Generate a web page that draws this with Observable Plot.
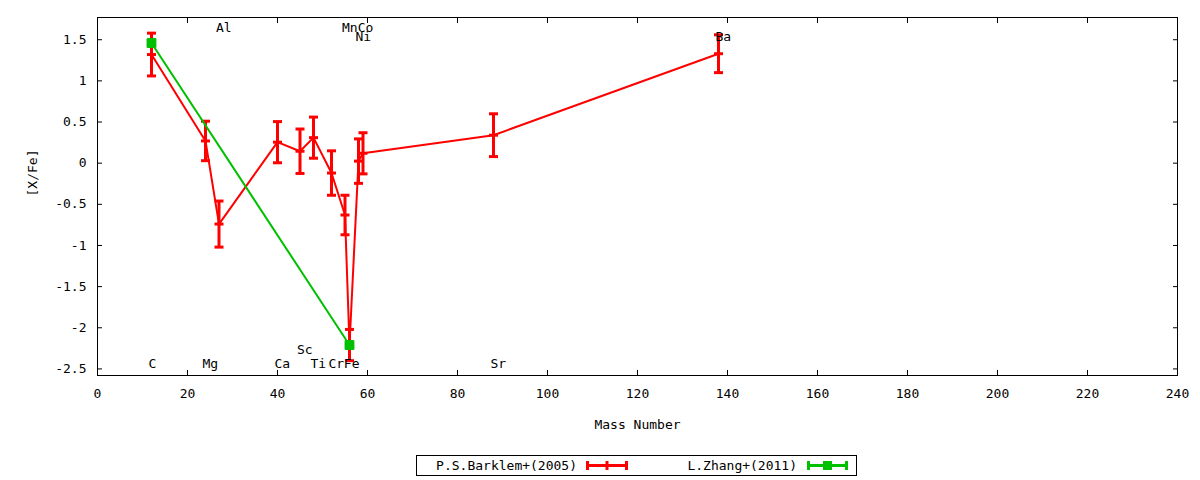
<!DOCTYPE html>
<html><head><meta charset="utf-8">
<script src="https://cdn.jsdelivr.net/npm/d3@7"></script>
<script src="https://cdn.jsdelivr.net/npm/@observablehq/plot@0.6"></script>
<style>
body{margin:0;background:#fff;font-family:"DejaVu Sans Mono",monospace;}
#wrap{position:relative;width:1200px;height:480px;}
#legend{position:absolute;left:416px;top:455px;}
</style></head><body><div id="wrap"><div id="chart"></div><svg id="legend" width="441" height="21"></svg></div>
<script>
// Barklem+(2005) abundances
const elements = ["C","Mg","Al","Ca","Sc","Ti","Cr","Mn","Fe","Ni","Co","Sr","Ba"];
const massNumber = [12,24,27,40,45,48,52,55,56,58,59,88,138];
const barklem = [1.32,0.27,-0.74,0.255,0.145,0.31,-0.12,-0.63,-2.21,0.025,0.12,0.34,1.33];
const barklemErr = [0.26,0.24,0.28,0.25,0.27,0.25,0.27,0.24,0.19,0.27,0.25,0.26,0.23];

// L.Zhang+(2011)
const zhangElements = ["C","Fe"];
const zhangMass = [12,56];
const zhang = [1.46,-2.21];

// element name labels
const labelText = ["C","Mg","Al","Ca","Sc","Ti","Cr","Mn","Fe","Ni","Co","Sr","Ba"];
const labelX = [12,24,27,40,45,48,52,55,55.4,58,58.5,88,138];
const labelY = [-2.44,-2.44,1.65,-2.44,-2.27,-2.44,-2.44,1.65,-2.44,1.53,1.65,-2.44,1.53];

const xTicks = [0,20,40,60,80,100,120,140,160,180,200,220,240];
const yTicks = [-2.5,-2,-1.5,-1,-0.5,0,0.5,1,1.5];
const xTitle = "Mass Number";
const yTitle = "[X/Fe]";

const RED = "#ff0000", GREEN = "#00c000";
const FONT = "DejaVu Sans Mono";

const red = elements.map((el,i)=>({el, mass: massNumber[i], v: barklem[i], e: barklemErr[i]}));
const green = zhangElements.map((el,i)=>({el, mass: zhangMass[i], v: zhang[i]}));
const labels = labelText.map((t,i)=>({t, x: labelX[i], y: labelY[i]}));

const cap = {draw(ctx){ ctx.moveTo(-4.5,0); ctx.lineTo(4.5,0); }};

const chart = Plot.plot({
  width: 1200, height: 440,
  marginLeft: 97, marginRight: 23, marginTop: 17, marginBottom: 65,
  style: {fontFamily: FONT, fontSize: "13px", color: "#000", background: "#fff"},
  x: {domain: [0,240]},
  y: {domain: [-2.58,1.77]},
  marks: [
    Plot.axisX({anchor:"bottom", ticks: xTicks, tickSize: 0, tickPadding: 13, tickFormat: d=>String(d), label: null, fontSize: 13}),
    Plot.axisX({anchor:"bottom", ticks: xTicks, tickSize: -5, tickFormat: ()=>"", label: null}),
    Plot.axisX({anchor:"top", ticks: xTicks, tickSize: -5, tickFormat: ()=>"", label: null}),
    Plot.axisY({anchor:"left", ticks: yTicks, tickSize: 0, tickPadding: 11, tickFormat: d=>String(d), label: null, fontSize: 13}),
    Plot.axisY({anchor:"left", ticks: yTicks, tickSize: -5, tickFormat: ()=>"", label: null}),
    Plot.axisY({anchor:"right", ticks: yTicks, tickSize: -5, tickFormat: ()=>"", label: null}),
    Plot.text([xTitle], {text: d=>d, frameAnchor: "bottom", dy: 53, fontSize: 13, fill: "#000"}),
    Plot.text([yTitle], {text: d=>d, frameAnchor: "left", rotate: -90, dx: -65, fontSize: 13, fill: "#000"}),
    Plot.frame({stroke: "#000", strokeWidth: 1}),
    Plot.line(red, {x: "mass", y: "v", stroke: RED, strokeWidth: 2}),
    Plot.ruleX(red, {x: "mass", y1: d=>d.v-d.e, y2: d=>d.v+d.e, stroke: RED, strokeWidth: 3}),
    Plot.dot(red, {x: "mass", y: d=>d.v-d.e, symbol: cap, fill: "none", stroke: RED, strokeWidth: 3}),
    Plot.dot(red, {x: "mass", y: d=>d.v+d.e, symbol: cap, fill: "none", stroke: RED, strokeWidth: 3}),
    Plot.dot(red, {x: "mass", y: "v", symbol: cap, fill: "none", stroke: RED, strokeWidth: 3}),
    Plot.line(green, {x: "mass", y: "v", stroke: GREEN, strokeWidth: 2}),
    Plot.dot(green, {x: "mass", y: "v", symbol: "square", r: 5, fill: GREEN, stroke: GREEN, strokeWidth: 1}),
    Plot.text(labels, {x: "x", y: "y", text: "t", textAnchor: "start", dx: -3, fill: "#000", fontSize: 13})
  ]
});
document.getElementById("chart").appendChild(chart);

// legend
const lg = d3.select("#legend");
lg.append("rect").attr("x",0.5).attr("y",0.5).attr("width",440).attr("height",20).attr("fill","none").attr("stroke","#000");
const entries = [
  {name: "P.S.Barklem+(2005)", color: RED, textEnd: 161, x0: 170, x1: 212, mid: "cap"},
  {name: "L.Zhang+(2011)", color: GREEN, textEnd: 381, x0: 391, x1: 432, mid: "square"}
];
for (const e of entries) {
  lg.append("text").attr("x", e.textEnd).attr("y", 10.5).attr("dy","0.35em").attr("text-anchor","end")
    .attr("font-family", FONT).attr("font-size", 13).text(e.name);
  lg.append("line").attr("x1",e.x0).attr("x2",e.x1).attr("y1",10.5).attr("y2",10.5).attr("stroke",e.color).attr("stroke-width",3);
  for (const x of [e.x0+1.5, e.x1-1.5]) lg.append("line").attr("x1",x).attr("x2",x).attr("y1",6).attr("y2",15).attr("stroke",e.color).attr("stroke-width",3);
  const m = (e.x0+e.x1)/2;
  if (e.mid === "cap") lg.append("line").attr("x1",m).attr("x2",m).attr("y1",6).attr("y2",15).attr("stroke",e.color).attr("stroke-width",3);
  else lg.append("rect").attr("x",m-4.5).attr("y",6).attr("width",9).attr("height",9).attr("fill",e.color);
}
</script></body></html>
